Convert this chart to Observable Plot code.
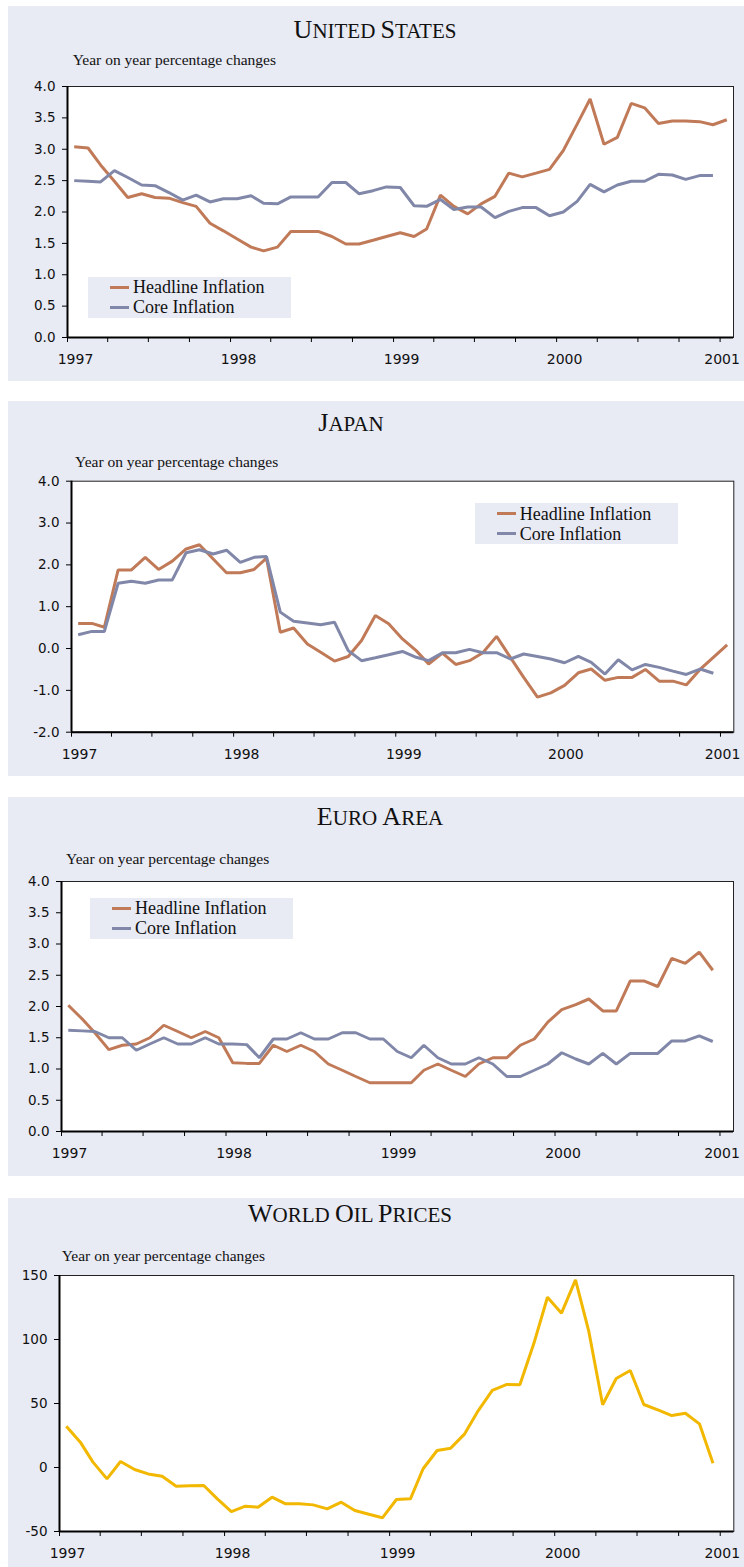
<!DOCTYPE html>
<html><head><meta charset="utf-8">
<script src="https://cdn.jsdelivr.net/npm/d3@7"></script>
<script src="https://cdn.jsdelivr.net/npm/@observablehq/plot@0.6"></script>
<style>
body{margin:0;background:#fff;width:744px;height:1567px;position:relative;overflow:hidden}
.panel{position:absolute;left:8px;width:736px;background:#e8eaf4}
.panel svg{position:absolute;left:0;top:0}
.title{position:absolute;font-family:"Liberation Serif","Times New Roman",serif;font-size:21px;line-height:30px;color:#111;white-space:nowrap;transform:translateX(-50%)}
.title .cap{font-size:26px;line-height:30px}
.sub{position:absolute;font-family:"Liberation Serif","Times New Roman",serif;font-size:15.5px;line-height:16px;color:#111;white-space:nowrap}
.legend{position:absolute;background:#e8eaf4;width:203px;height:41px}
.legend .sw{position:absolute;left:22px;width:19px;height:3px}
.legend .lt{position:absolute;left:45px;top:0.4px;font-family:"Liberation Serif","Times New Roman",serif;font-size:18px;line-height:20px;color:#111;white-space:nowrap}
</style>
</head><body>
<script>
// ---------- data ----------
const seriesNames = ["Headline Inflation", "Core Inflation"];
const colors = {headline: "#c07a58", core: "#8087a8", oil: "#f2b800"};
const yearLabels = [1997, 1998, 1999, 2000, 2001];

const usHeadline = [3.04,3.02,2.75,2.49,2.23,2.29,2.23,2.22,2.15,2.09,1.82,1.70,1.57,1.44,1.38,1.44,1.69,1.69,1.69,1.61,1.49,1.49,1.55,1.61,1.67,1.61,1.73,2.27,2.09,1.97,2.13,2.25,2.62,2.56,2.62,2.68,2.98,3.40,3.80,3.08,3.19,3.73,3.66,3.41,3.45,3.45,3.44,3.39,3.47];
const usCore = [2.50,2.49,2.48,2.66,2.55,2.43,2.42,2.31,2.19,2.27,2.16,2.21,2.21,2.26,2.14,2.13,2.24,2.24,2.24,2.47,2.47,2.29,2.34,2.40,2.39,2.10,2.09,2.20,2.04,2.08,2.08,1.91,2.01,2.07,2.07,1.94,2.00,2.17,2.44,2.32,2.43,2.49,2.49,2.60,2.59,2.52,2.58,2.58];

const jpHeadline = [0.60,0.60,0.51,1.88,1.88,2.18,1.89,2.09,2.38,2.48,2.14,1.81,1.81,1.89,2.16,0.39,0.49,0.11,-0.09,-0.30,-0.19,0.19,0.79,0.59,0.23,-0.05,-0.37,-0.11,-0.38,-0.29,-0.10,0.29,-0.21,-0.69,-1.16,-1.06,-0.88,-0.58,-0.49,-0.76,-0.69,-0.69,-0.50,-0.78,-0.78,-0.87,-0.50,-0.21,0.09];
const jpCore = [0.33,0.41,0.41,1.56,1.61,1.56,1.64,1.64,2.29,2.36,2.26,2.35,2.06,2.18,2.20,0.87,0.65,0.61,0.57,0.63,-0.05,-0.29,-0.22,-0.15,-0.07,-0.21,-0.29,-0.10,-0.10,-0.02,-0.10,-0.10,-0.25,-0.13,-0.19,-0.25,-0.34,-0.19,-0.33,-0.61,-0.27,-0.51,-0.38,-0.45,-0.54,-0.62,-0.49,-0.59];

const euHeadline = [2.02,1.80,1.58,1.31,1.38,1.40,1.50,1.70,1.60,1.50,1.60,1.50,1.10,1.09,1.09,1.38,1.28,1.38,1.28,1.08,0.98,0.88,0.78,0.78,0.78,0.78,0.98,1.08,0.98,0.88,1.08,1.18,1.18,1.38,1.48,1.75,1.95,2.03,2.12,1.93,1.93,2.41,2.41,2.32,2.77,2.69,2.87,2.58];
const euCore = [1.62,1.61,1.60,1.50,1.50,1.30,1.40,1.50,1.40,1.40,1.50,1.40,1.40,1.39,1.18,1.48,1.48,1.58,1.48,1.48,1.58,1.58,1.48,1.48,1.28,1.18,1.38,1.18,1.08,1.08,1.18,1.08,0.88,0.88,0.98,1.08,1.26,1.16,1.08,1.25,1.08,1.25,1.25,1.25,1.45,1.45,1.53,1.44];

const oilPrices = [32.3,19.8,4.2,-8.9,4.7,-1.6,-5.0,-6.8,-14.6,-14.3,-14.1,-24.5,-34.4,-30.2,-31.0,-23.2,-28.4,-28.4,-29.2,-32.3,-27.1,-33.6,-36.5,-39.3,-25.0,-24.5,-1.0,13.3,15.1,26.3,44.5,60.2,64.8,64.7,97.0,133.0,120.6,146.6,107.0,49.0,69.5,75.8,49.2,45.0,40.6,42.4,34.1,3.4];

const inflTicks = [0,0.5,1,1.5,2,2.5,3,3.5,4];
const jpTicks = [-2,-1,0,1,2,3,4];
const oilTicks = [-50,0,50,100,150];

// ---------- helpers ----------
const months = d3.utcMonths(new Date(Date.UTC(1997,0,1)), new Date(Date.UTC(2001,1,1)));
const midMonth = d => d3.utcDay.offset(d, 15);
const yearDates = yearLabels.map(y => new Date(Date.UTC(y,0,1)));
const quarterTicks = d3.utcMonths(yearDates[0], d3.utcDay.offset(yearDates[yearDates.length-1],1), 3);
const xDomain = [yearDates[0], new Date(Date.UTC(2001,0,31))];
const toRows = (vals, key) => vals.map((v,i) => ({date: midMonth(months[i]), value: v, key}));

function makePanel(cfg) {
  const div = document.createElement("div");
  div.className = "panel";
  div.style.top = cfg.top + "px";
  div.style.height = cfg.height + "px";
  document.body.appendChild(div);

  const lines = cfg.series.map(s => Plot.line(toRows(s.values, s.key), {
    x: "date", y: "value", stroke: s.color, strokeWidth: 3,
    strokeLinejoin: "miter", strokeLinecap: "butt"
  }));

  const svg = Plot.plot({
    width: 736, height: cfg.height,
    marginLeft: cfg.mL, marginRight: cfg.mR, marginTop: cfg.mT, marginBottom: cfg.mB,
    style: {background: "transparent", fontFamily: "'DejaVu Sans', sans-serif", fontSize: "13px", color: "#111", overflow: "visible"},
    x: {type: "utc", domain: xDomain},
    y: {domain: [cfg.yTicks[0], cfg.yTicks[cfg.yTicks.length-1]]},
    marks: [
      Plot.frame({fill: "white", stroke: null}),
      Plot.axisY({ticks: cfg.yTicks, tickSize: 5, tickPadding: 7, tickFormat: cfg.fmt, label: null, stroke: "#000", fontSize: 13.5}),
      Plot.axisX({ticks: quarterTicks, tickSize: 5, tickFormat: () => "", label: null, stroke: "#000"}),
      Plot.axisX({ticks: yearDates.slice(0, -1), tickSize: 0, tickPadding: 17, tickFormat: d3.utcFormat("%Y"), dx: 8, label: null, fontSize: 14}),
      Plot.axisX({ticks: yearDates.slice(-1), tickSize: 0, tickPadding: 17, tickFormat: d3.utcFormat("%Y"), dx: 2, label: null, fontSize: 14}),
      ...lines,
      Plot.frame({stroke: "#222", strokeWidth: 1}),
      Plot.ruleX([xDomain[0]], {stroke: "#000", strokeWidth: 2}),
      Plot.ruleY([cfg.yTicks[0]], {stroke: "#000", strokeWidth: 2})
    ]
  });
  div.appendChild(svg);

  const t = document.createElement("div");
  t.className = "title";
  t.style.left = cfg.titleX + "px";
  t.style.top = cfg.titleY + "px";
  t.innerHTML = cfg.title;
  div.appendChild(t);

  const s = document.createElement("div");
  s.className = "sub";
  s.style.left = cfg.subX + "px";
  s.style.top = (cfg.subY + 1) + "px";
  s.textContent = "Year on year percentage changes";
  div.appendChild(s);

  if (cfg.legend) {
    const lg = document.createElement("div");
    lg.className = "legend";
    lg.style.left = cfg.legend[0] + "px";
    lg.style.top = cfg.legend[1] + "px";
    cfg.series.forEach((ser, i) => {
      const sw = document.createElement("div");
      sw.className = "sw";
      sw.style.top = (9.2 + i*20) + "px";
      sw.style.background = ser.color;
      lg.appendChild(sw);
    });
    const lt = document.createElement("div");
    lt.className = "lt";
    lt.innerHTML = seriesNames.join("<br>");
    lg.appendChild(lt);
    div.appendChild(lg);
  }
}

const f1 = d => d.toFixed(1);
const f0 = d => d.toFixed(0);

makePanel({top: 6, height: 375, mL: 59, mR: 11, mT: 80, mB: 44,
  yTicks: inflTicks, fmt: f1,
  series: [{values: usHeadline, color: colors.headline, key: "h"}, {values: usCore, color: colors.core, key: "c"}],
  title: '<span class="cap">U</span>NITED <span class="cap">S</span>TATES', titleX: 367, titleY: 9,
  subX: 64.7, subY: 45.4, legend: [80, 271]});

makePanel({top: 401, height: 375, mL: 63, mR: 10.7, mT: 79.7, mB: 44.3,
  yTicks: jpTicks, fmt: f1,
  series: [{values: jpHeadline, color: colors.headline, key: "h"}, {values: jpCore, color: colors.core, key: "c"}],
  title: '<span class="cap">J</span>APAN', titleX: 343, titleY: 7,
  subX: 67, subY: 52.4, legend: [466.7, 102.3]});

makePanel({top: 797, height: 379, mL: 53, mR: 11, mT: 84, mB: 45,
  yTicks: inflTicks, fmt: f1,
  series: [{values: euHeadline, color: colors.headline, key: "h"}, {values: euCore, color: colors.core, key: "c"}],
  title: '<span class="cap">E</span>URO <span class="cap">A</span>REA', titleX: 372, titleY: 5,
  subX: 58, subY: 52.8, legend: [82, 101]});

makePanel({top: 1198, height: 369, mL: 51, mR: 10.7, mT: 77, mB: 36,
  yTicks: oilTicks, fmt: f0,
  series: [{values: oilPrices, color: colors.oil, key: "o"}],
  title: '<span class="cap">W</span>ORLD <span class="cap">O</span>IL <span class="cap">P</span>RICES', titleX: 342, titleY: 0.5,
  subX: 53.7, subY: 48.5, legend: null});
</script>
</body></html>
